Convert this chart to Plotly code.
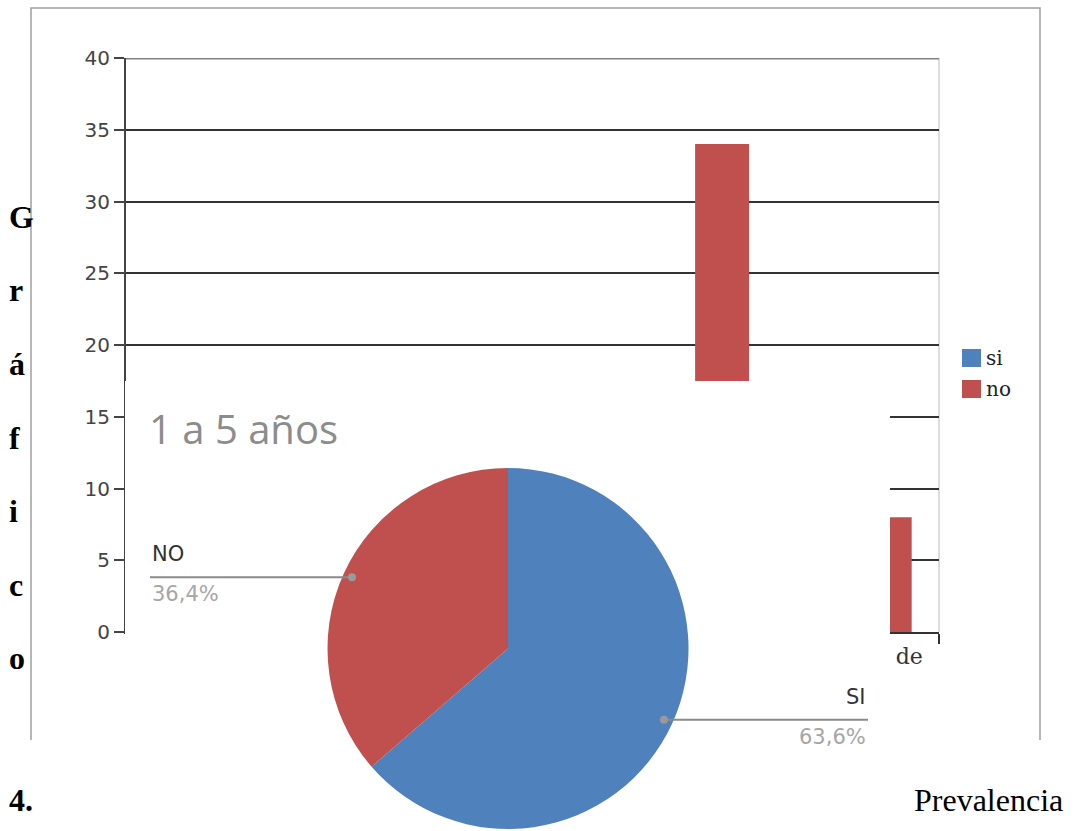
import math
import plotly.graph_objects as go

# ---- data -------------------------------------------------------------
categories = ["Menores de<br>1 año", "1 a 5 años", "6 a 10 años", "11 a 15 años", "Mayores de<br>15"]
series_names = ["si", "no"]
si_values = [3, 7, 10, 12, 5]
no_values = [6, 4, 9, 34, 8]
y_ticks = [0, 5, 10, 15, 20, 25, 30, 35, 40]

pie_title = "1 a 5 años"
pie_labels = ["SI", "NO"]
pie_values = [7, 4]

side_letters = ["G", "r", "á", "f", "i", "c", "o"]
caption_number = "4."
caption_word = "Prevalencia"

colors = {"si": "#4F81BD", "no": "#C0504D"}

# ---- canvas helpers (pixel -> paper) -----------------------------------
W, H = 1074, 831


def px(x):
    return x / W


def py(y):
    return 1 - y / H


fig = go.Figure()

# ---- grouped bar chart -------------------------------------------------
for name, vals in zip(series_names, [si_values, no_values]):
    fig.add_trace(go.Bar(
        x=categories, y=vals, name=name, marker_color=colors[name],
        marker_line_width=0, showlegend=False, hoverinfo="skip",
        xaxis="x", yaxis="y",
    ))

# white panel laid over the lower part of the bar chart
fig.add_trace(go.Scatter(
    x=[125, 890, 890, 125, 125], y=[381, 381, 831, 831, 381],
    mode="lines", fill="toself", fillcolor="white", line=dict(width=0),
    showlegend=False, hoverinfo="skip", xaxis="x2", yaxis="y2",
))

# ---- pie chart ---------------------------------------------------------
pie_cx, pie_cy, pie_r = 508, 648.5, 180.5
pie_colors = [colors["si"], colors["no"]]
fig.add_trace(go.Pie(
    labels=pie_labels, values=pie_values, sort=False, direction="clockwise",
    rotation=0, marker=dict(colors=pie_colors, line=dict(width=0)),
    textinfo="none", hoverinfo="skip", showlegend=False,
    domain=dict(x=[px(pie_cx - pie_r), px(pie_cx + pie_r)],
                y=[py(pie_cy + pie_r), py(pie_cy - pie_r)]),
))

annotations = []
shapes = []

# leader lines and labels for each slice
total = sum(pie_values)
start = 0.0
label_font = "DejaVu Sans"
for lab, val in zip(pie_labels, pie_values):
    frac = val / total
    mid = (start + frac / 2) * 2 * math.pi
    start += frac
    dx = 0.95 * pie_r * math.sin(mid)
    dy = -0.95 * pie_r * math.cos(mid)
    dot_x, dot_y = pie_cx + dx, pie_cy + dy
    pct = f"{frac * 100:.1f}".replace(".", ",") + "%"
    if dx < 0:
        end_x, anchor = 150, "left"
    else:
        end_x, anchor = 868, "right"
    shapes.append(dict(type="line", xref="paper", yref="paper",
                       x0=px(end_x), x1=px(dot_x), y0=py(dot_y), y1=py(dot_y),
                       line=dict(color="#8a8a8a", width=2), layer="above"))
    shapes.append(dict(type="circle", xref="paper", yref="paper",
                       x0=px(dot_x - 4), x1=px(dot_x + 4),
                       y0=py(dot_y + 4), y1=py(dot_y - 4),
                       fillcolor="#9a9a9a", line=dict(width=0), layer="above"))
    annotations.append(dict(text=lab, x=px(end_x), y=py(dot_y - 23), xref="paper",
                            yref="paper", xanchor=anchor, yanchor="middle",
                            showarrow=False,
                            font=dict(family=label_font, size=21, color="#333333")))
    annotations.append(dict(text=pct, x=px(end_x), y=py(dot_y + 17), xref="paper",
                            yref="paper", xanchor=anchor, yanchor="middle",
                            showarrow=False,
                            font=dict(family=label_font, size=21, color="#a6a6a6")))

annotations.append(dict(text=pie_title, x=px(147), y=py(428), xref="paper", yref="paper",
                        xanchor="left", yanchor="middle", showarrow=False,
                        font=dict(family="Open Sans", size=40, color="#8c8c8c")))

# ---- legend of the bar chart -------------------------------------------
for i, name in enumerate(series_names):
    top = 349 + i * 31
    shapes.append(dict(type="rect", xref="paper", yref="paper",
                       x0=px(962), x1=px(981), y0=py(top + 18), y1=py(top),
                       fillcolor=colors[name], line=dict(width=0), layer="above"))
    annotations.append(dict(text=name, x=px(984), y=py(top + 9), xref="paper",
                            yref="paper", xanchor="left", yanchor="middle",
                            showarrow=False,
                            font=dict(family="DejaVu Serif", size=20, color="#222222")))

# ---- bar chart frame pieces --------------------------------------------
shapes.append(dict(type="line", xref="x domain", yref="y", x0=0, x1=1, y0=40, y1=40,
                   line=dict(color="#808080", width=3), layer="above"))
shapes.append(dict(type="line", xref="x domain", yref="y", x0=1, x1=1, y0=0, y1=40,
                   line=dict(color="#d0d0d0", width=1.5), layer="below"))

# outer border around the figure
shapes.append(dict(type="path", xref="paper", yref="paper",
                   path=f"M {px(31)},{py(740)} L {px(31)},{py(8)} L {px(1040)},{py(8)} L {px(1040)},{py(740)}",
                   line=dict(color="#a0a0a0", width=1.5), layer="above"))

# ---- caption text ------------------------------------------------------
for k, ch in enumerate(side_letters):
    annotations.append(dict(text=f"<b>{ch}</b>", x=px(7), y=py(217 + 73.5 * k),
                            xref="paper", yref="paper", xanchor="left",
                            yanchor="middle", showarrow=False,
                            font=dict(family="Liberation Serif", size=32, color="#000000")))
annotations.append(dict(text=f"<b>{caption_number}</b>", x=px(7), y=py(800),
                        xref="paper", yref="paper", xanchor="left", yanchor="middle",
                        showarrow=False,
                        font=dict(family="Liberation Serif", size=32, color="#000000")))
annotations.append(dict(text=caption_word, x=px(1065), y=py(800),
                        xref="paper", yref="paper", xanchor="right", yanchor="middle",
                        showarrow=False,
                        font=dict(family="Liberation Serif", size=32, color="#000000")))

fig.update_layout(
    width=W, height=H, margin=dict(l=0, r=0, t=0, b=0, pad=0, autoexpand=False),
    paper_bgcolor="white", plot_bgcolor="rgba(0,0,0,0)",
    barmode="group", bargap=0.336, bargroupgap=0,
    xaxis=dict(domain=[px(126), px(939)], type="category",
               categoryorder="array", categoryarray=categories,
               tickson="boundaries", ticks="outside", ticklen=10, tickwidth=2,
               tickcolor="#333333", showline=True, linecolor="#333333", linewidth=2,
               showgrid=False, zeroline=False, ticklabelstandoff=4,
               tickfont=dict(family="DejaVu Serif", size=22, color="#333333")),
    yaxis=dict(domain=[py(632), py(58)], range=[0, 40], tickvals=y_ticks,
               showgrid=True, gridcolor="#333333", gridwidth=2,
               showline=True, linecolor="#444444", linewidth=2, zeroline=False,
               ticks="outside", ticklen=10, tickwidth=2, tickcolor="#444444",
               tickfont=dict(family="DejaVu Sans", size=20, color="#444444")),
    xaxis2=dict(domain=[0, 1], range=[0, W], visible=False, anchor="y2"),
    yaxis2=dict(domain=[0, 1], range=[H, 0], visible=False, anchor="x2"),
    annotations=annotations, shapes=shapes,
)

fig.write_html("out.html")
